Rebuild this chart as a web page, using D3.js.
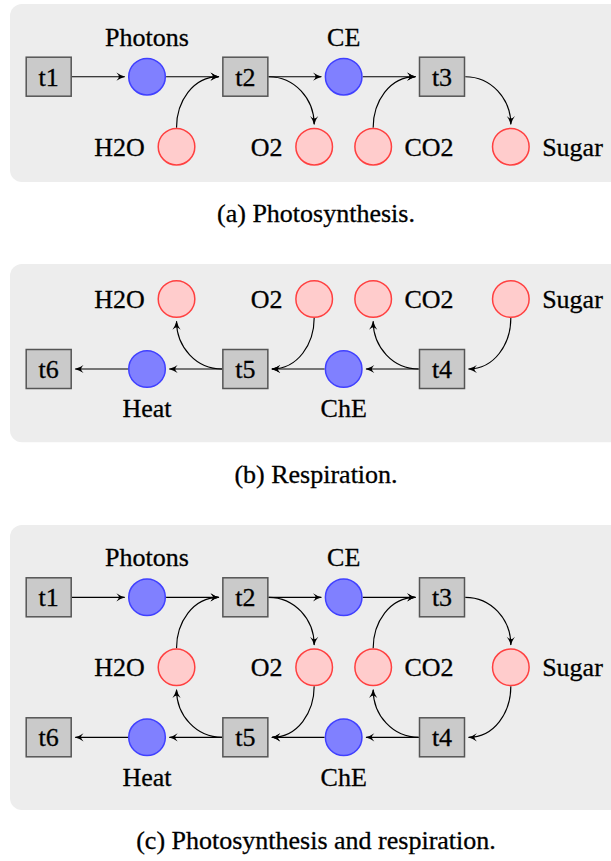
<!DOCTYPE html>
<html><head><meta charset="utf-8">
<script src="https://cdn.jsdelivr.net/npm/d3@7"></script>
<style>html,body{margin:0;padding:0;background:#fff;} svg{display:block;}</style>
</head><body>
<svg id="chart" width="611" height="861"></svg>
<script>
// ---------- DATA ----------
const transitions = ["t1", "t2", "t3", "t4", "t5", "t6"];
const transitionCol = [0, 2, 4, 4, 2, 0];
const transitionRow = [0, 0, 0, 2, 2, 2];

const places = ["Photons", "CE", "ChE", "Heat", "H2O", "O2", "CO2", "Sugar"];
const placeType = ["energy", "energy", "energy", "energy", "matter", "matter", "matter", "matter"];
const placeCol = [1, 3, 3, 1, 1.3, 2.7, 3.3, 4.7];
const placeRow = [0, 0, 2, 2, 1, 1, 1, 1];
const placeLabelSide = ["above", "above", "below", "below", "left", "left", "right", "right"];

// [source, target, out angle, in angle] (degrees, counter-clockwise, 0 = east)
const photosynthesisArcs = [
  ["t1", "Photons", 0, 180], ["Photons", "t2", 0, 180], ["H2O", "t2", 90, 180],
  ["t2", "CE", 0, 180], ["t2", "O2", 0, 90], ["CE", "t3", 0, 180],
  ["CO2", "t3", 90, 180], ["t3", "Sugar", 0, 90]
];
const respirationArcs = [
  ["Sugar", "t4", 270, 0], ["t4", "ChE", 180, 0], ["t4", "CO2", 180, 270],
  ["ChE", "t5", 180, 0], ["O2", "t5", 270, 0], ["t5", "Heat", 180, 0],
  ["t5", "H2O", 180, 270], ["Heat", "t6", 180, 0]
];
const captions = ["(a) Photosynthesis.", "(b) Respiration.", "(c) Photosynthesis and respiration."];

// ---------- LAYOUT ----------
const panels = [
  { arcs: photosynthesisArcs, row0: 76.7, bgTop: 4, bgBottom: 182, captionY: 222 },
  { arcs: respirationArcs, row0: 229, bgTop: 264, bgBottom: 442.3, captionY: 483 },
  { arcs: photosynthesisArcs.concat(respirationArcs), row0: 597.3, bgTop: 525, bgBottom: 810, captionY: 848.5 }
];

const FONT = "'Liberation Serif', 'Times New Roman', Times, serif";
const FS = 26;
const BOX_W = 45, BOX_H = 39, R = 18.3;
const x = d3.scaleLinear().domain([0, 4]).range([48.7, 442]);

const svg = d3.select("#chart");
const defs = svg.append("defs");
defs.append("marker")
  .attr("id", "arrow")
  .attr("viewBox", "-10 -5 12 10")
  .attr("markerWidth", 12).attr("markerHeight", 10)
  .attr("refX", 0).attr("refY", 0)
  .attr("orient", "auto")
  .attr("markerUnits", "userSpaceOnUse")
  .append("path")
  .attr("d", "M0.6,0 Q-4.5,-1.3 -8.3,-4.1 Q-5.8,-1.6 -5.8,0 Q-5.8,1.6 -8.3,4.1 Q-4.5,1.3 0.6,0 Z")
  .attr("fill", "#000");

const nodeInfo = {};
transitions.forEach((t, i) => nodeInfo[t] = { kind: "transition", col: transitionCol[i], row: transitionRow[i] });
places.forEach((p, i) => nodeInfo[p] = { kind: "place", type: placeType[i], col: placeCol[i], row: placeRow[i], side: placeLabelSide[i] });

function anchor(n, cx, cy, ang, gap) {
  const a = ang * Math.PI / 180;
  const c = Math.cos(a), s = Math.sin(a);
  if (n.kind === "place") {
    const rr = R + 0.75 + gap;
    return [cx + rr * c, cy - rr * s];
  }
  const hw = BOX_W / 2 + 0.75 + gap, hh = BOX_H / 2 + 0.75 + gap;
  const t = Math.min(Math.abs(c) > 1e-9 ? hw / Math.abs(c) : Infinity, Math.abs(s) > 1e-9 ? hh / Math.abs(s) : Infinity);
  return [cx + t * c, cy - t * s];
}

function addText(sel) {
  return sel.attr("font-family", FONT).attr("font-size", FS)
    .attr("fill", "#000").attr("stroke", "#000").attr("stroke-width", 0.3);
}

panels.forEach((panel, pi) => {
  const y = d3.scaleLinear().domain([0, 2]).range([panel.row0, panel.row0 + 140]);
  const g = svg.append("g");

  g.append("rect")
    .attr("x", 10).attr("y", panel.bgTop)
    .attr("width", 660).attr("height", panel.bgBottom - panel.bgTop)
    .attr("rx", 12).attr("ry", 12)
    .attr("fill", "#ededed");

  const used = [];
  panel.arcs.forEach(a => { [a[0], a[1]].forEach(n => { if (!used.includes(n)) used.push(n); }); });

  const pos = n => [x(nodeInfo[n].col), y(nodeInfo[n].row)];

  // arcs
  g.selectAll("path.arc").data(panel.arcs).enter().append("path")
    .attr("class", "arc")
    .attr("fill", "none")
    .attr("stroke", "#000")
    .attr("stroke-width", 1.15)
    .attr("marker-end", "url(#arrow)")
    .attr("d", a => {
      const [sx, sy] = pos(a[0]);
      const [tx, ty] = pos(a[1]);
      const p0 = anchor(nodeInfo[a[0]], sx, sy, a[2], 0);
      const p3 = anchor(nodeInfo[a[1]], tx, ty, a[3], 3.3);
      const d = Math.hypot(p3[0] - p0[0], p3[1] - p0[1]) * 0.3915;
      const o = a[2] * Math.PI / 180, i = a[3] * Math.PI / 180;
      const p1 = [p0[0] + d * Math.cos(o), p0[1] - d * Math.sin(o)];
      const p2 = [p3[0] + d * Math.cos(i), p3[1] - d * Math.sin(i)];
      const path = d3.path();
      path.moveTo(p0[0], p0[1]);
      path.bezierCurveTo(p1[0], p1[1], p2[0], p2[1], p3[0], p3[1]);
      return path.toString();
    });

  // transitions
  const ts = used.filter(n => nodeInfo[n].kind === "transition");
  g.selectAll("rect.tr").data(ts).enter().append("rect")
    .attr("class", "tr")
    .attr("x", n => pos(n)[0] - BOX_W / 2)
    .attr("y", n => pos(n)[1] - BOX_H / 2)
    .attr("width", BOX_W).attr("height", BOX_H)
    .attr("fill", "#cacaca")
    .attr("stroke", "#555")
    .attr("stroke-width", 1.5);
  addText(g.selectAll("text.tr").data(ts).enter().append("text")
    .attr("class", "tr")
    .attr("x", n => pos(n)[0])
    .attr("y", n => pos(n)[1] + 9)
    .attr("text-anchor", "middle"))
    .text(n => n);

  // places
  const ps = used.filter(n => nodeInfo[n].kind === "place");
  g.selectAll("circle.pl").data(ps).enter().append("circle")
    .attr("class", "pl")
    .attr("cx", n => pos(n)[0])
    .attr("cy", n => pos(n)[1])
    .attr("r", R)
    .attr("fill", n => nodeInfo[n].type === "energy" ? "#8080ff" : "#ffcccc")
    .attr("stroke", n => nodeInfo[n].type === "energy" ? "#4040ff" : "#ff4040")
    .attr("stroke-width", 1.5);
  addText(g.selectAll("text.pl").data(ps).enter().append("text")
    .attr("class", "pl")
    .attr("x", n => {
      const s = nodeInfo[n].side, cx = pos(n)[0];
      return s === "left" ? cx - 31.7 : s === "right" ? cx + 31.3 : cx;
    })
    .attr("y", n => {
      const s = nodeInfo[n].side, cy = pos(n)[1];
      return s === "above" ? cy - 31 : s === "below" ? cy + 48.4 : cy + 9;
    })
    .attr("text-anchor", n => {
      const s = nodeInfo[n].side;
      return s === "left" ? "end" : s === "right" ? "start" : "middle";
    }))
    .text(n => n);

  // caption
  addText(svg.append("text")
    .attr("x", 316).attr("y", panel.captionY)
    .attr("text-anchor", "middle"))
    .text(captions[pi]);
});
</script>
</body></html>
